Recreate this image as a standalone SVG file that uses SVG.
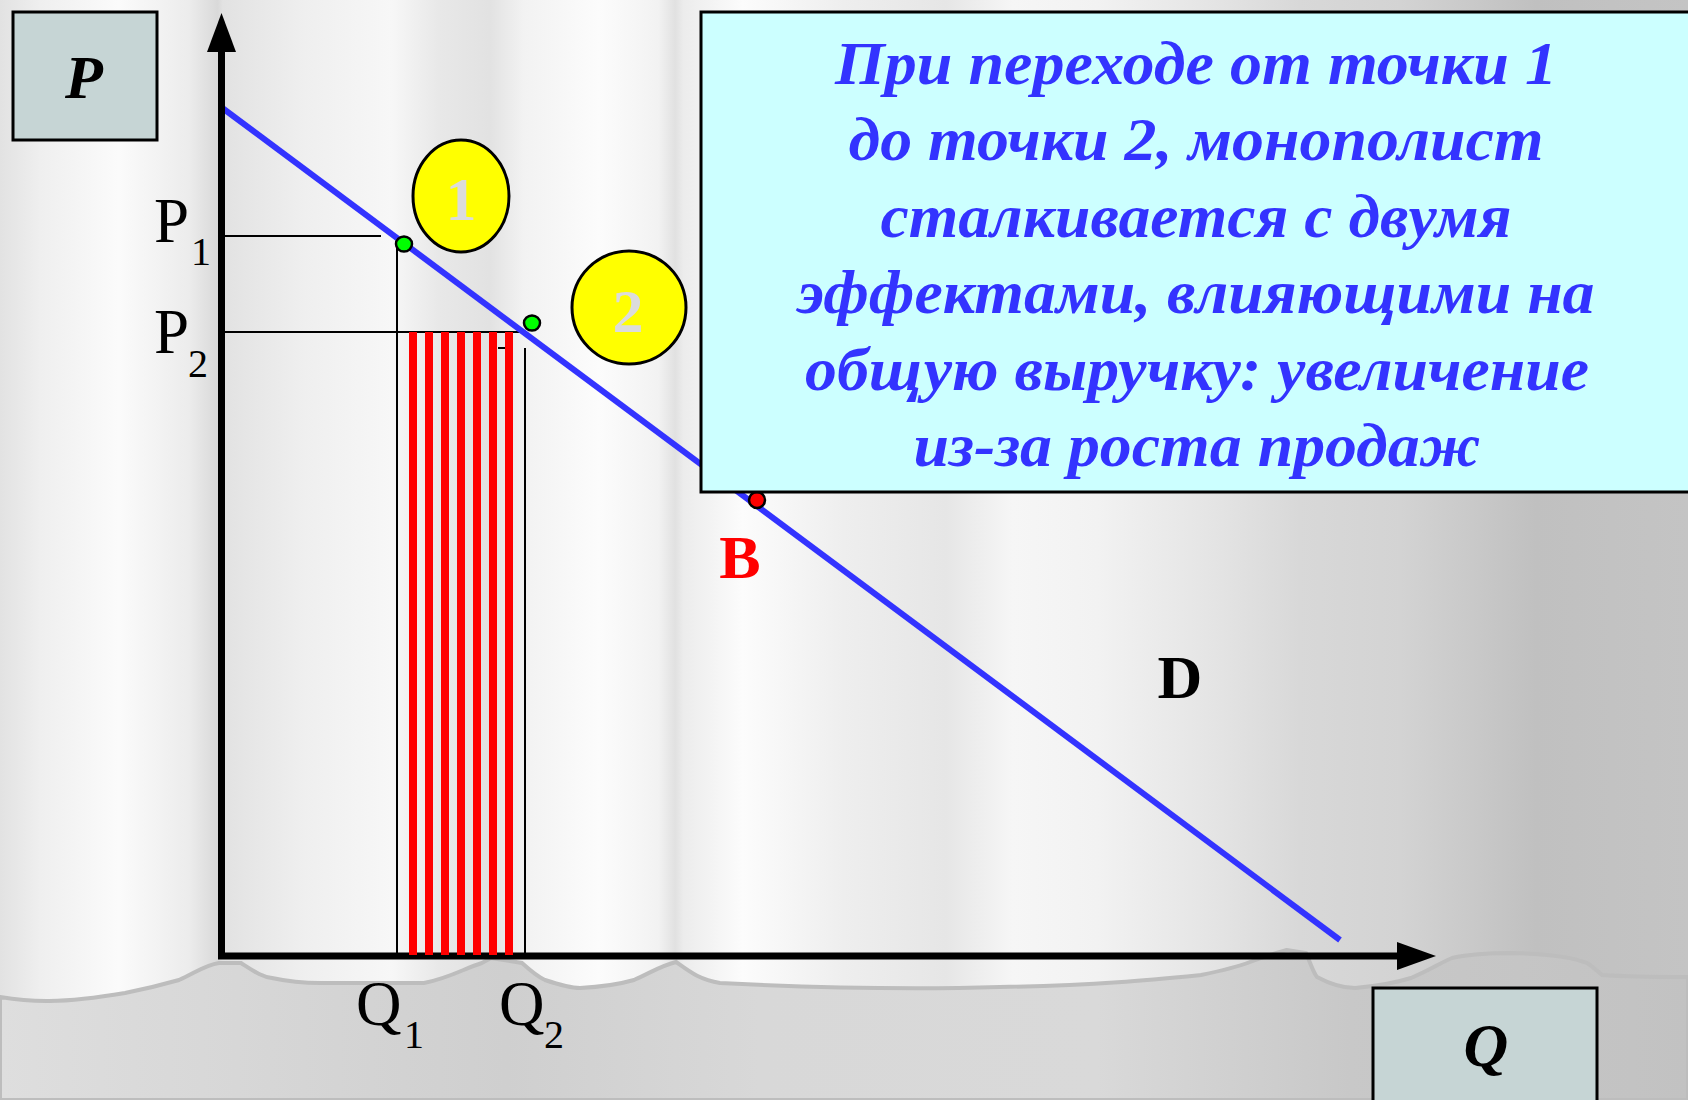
<svg xmlns="http://www.w3.org/2000/svg" width="1688" height="1100" viewBox="0 0 1688 1100">
<style>
.serif{font-family:"Liberation Serif","Times New Roman",serif}
.lbl{font-family:"Liberation Serif","Times New Roman",serif;font-size:63px;fill:#000}
.sub{font-family:"Liberation Serif","Times New Roman",serif;font-size:40px;fill:#000}
.axisbox{fill:#c6d5d5;stroke:#000;stroke-width:3}
.big{font-family:"Liberation Serif","Times New Roman",serif;font-size:62px;font-weight:bold;font-style:italic;fill:#000;text-anchor:middle}
.note{font-family:"Liberation Serif","Times New Roman",serif;font-size:62px;font-weight:bold;font-style:italic;fill:#3333ff;text-anchor:middle}
.num{font-family:"Liberation Serif","Times New Roman",serif;font-size:62px;font-weight:bold;fill:#dcdcdc;text-anchor:middle}
.guide{stroke:#000;stroke-width:2;fill:none}
.stripe{fill:#ff0000}
.dot{stroke:#000;stroke-width:2.5}
</style>
<defs>
<linearGradient id="curtain" x1="0" y1="0" x2="1688" y2="0" gradientUnits="userSpaceOnUse">
<stop offset="0" stop-color="#e2e2e2"/>
<stop offset="0.024" stop-color="#efefef"/>
<stop offset="0.07" stop-color="#fbfbfb"/>
<stop offset="0.112" stop-color="#ececec"/>
<stop offset="0.129" stop-color="#d9d9d9"/>
<stop offset="0.132" stop-color="#e2e2e2"/>
<stop offset="0.18" stop-color="#efefef"/>
<stop offset="0.232" stop-color="#f7f7f7"/>
<stop offset="0.26" stop-color="#e8e8e8"/>
<stop offset="0.29" stop-color="#e2e2e2"/>
<stop offset="0.31" stop-color="#f2f2f2"/>
<stop offset="0.355" stop-color="#fcfcfc"/>
<stop offset="0.39" stop-color="#f2f2f2"/>
<stop offset="0.4" stop-color="#e1e1e1"/>
<stop offset="0.405" stop-color="#ececec"/>
<stop offset="0.44" stop-color="#fcfcfc"/>
<stop offset="0.5" stop-color="#eeeeee"/>
<stop offset="0.56" stop-color="#e6e6e6"/>
<stop offset="0.6" stop-color="#f6f6f6"/>
<stop offset="0.65" stop-color="#f2f2f2"/>
<stop offset="0.72" stop-color="#e4e4e4"/>
<stop offset="0.77" stop-color="#d8d8d8"/>
<stop offset="0.83" stop-color="#d3d3d3"/>
<stop offset="0.91" stop-color="#c0c0c0"/>
<stop offset="1" stop-color="#c4c4c4"/>
</linearGradient>
<linearGradient id="floor" x1="0" y1="0" x2="1688" y2="0" gradientUnits="userSpaceOnUse">
<stop offset="0" stop-color="#dedede"/>
<stop offset="0.3" stop-color="#cfcfcf"/>
<stop offset="0.45" stop-color="#d8d8d8"/>
<stop offset="0.65" stop-color="#d9d9d9"/>
<stop offset="0.8" stop-color="#c8c8c8"/>
<stop offset="1" stop-color="#c2c2c2"/>
</linearGradient>
</defs>

<g id="background">
<rect x="0" y="0" width="1688" height="1100" fill="url(#curtain)"/>
<path d="M0,997 C30,1002 60,1004 125,993 C150,988 165,984 179,980 C195,973 205,965 219,963 L241,963 C255,972 262,977 272,978 C290,982 305,983 321,983 L424,983 C450,978 465,968 482,963 L491,958 L522,963 C532,972 538,977 545,980 C560,985 570,988 580,988 C600,987 620,984 634,980 C650,973 660,966 676,962 C690,972 700,980 720,983 C800,987 900,990 1000,987 C1100,985 1150,980 1201,975 C1225,970 1240,966 1250,962 C1265,956 1280,952 1287,950 L1306,953 C1310,962 1313,972 1317,977 C1330,984 1343,988 1355,988 C1380,986 1398,982 1411,978 C1430,970 1442,962 1452,958 C1470,954 1490,953 1512,953 C1550,954 1575,958 1587,963 C1595,968 1598,972 1602,975 C1630,977 1660,977 1688,977 L1688,1100 L0,1100 Z" fill="url(#floor)" stroke="#bdbdbd" stroke-width="4"/>
</g>

<g id="connectors">
<line id="p1-guide" class="guide" x1="221" y1="236" x2="381" y2="236"/>
<line id="p2-guide" class="guide" x1="221" y1="332" x2="525" y2="332"/>
<line id="q1-guide" class="guide" x1="397" y1="236" x2="397" y2="956"/>
<line id="q2-guide" class="guide" x1="525" y1="348" x2="525" y2="956"/>
<line id="q2-tick" class="guide" x1="498" y1="348" x2="512" y2="348"/>
<line id="demand-curve" x1="221" y1="107" x2="1340" y2="940" stroke="#3333ff" stroke-width="6"/>
<line id="y-axis" x1="221.5" y1="50" x2="221.5" y2="959" stroke="#000" stroke-width="7"/>
<polygon id="y-arrow" points="221.5,13 207,52 236,52" fill="#000"/>
<line id="x-axis" x1="218" y1="956" x2="1400" y2="956" stroke="#000" stroke-width="7"/>
<polygon id="x-arrow" points="1436,956 1397,942 1397,970" fill="#000"/>
</g>

<g id="revenue-stripes">
<rect class="stripe" x="409" y="332" width="8" height="623"/>
<rect class="stripe" x="425" y="332" width="8" height="623"/>
<rect class="stripe" x="441" y="332" width="8" height="623"/>
<rect class="stripe" x="457" y="332" width="8" height="623"/>
<rect class="stripe" x="473" y="332" width="8" height="623"/>
<rect class="stripe" x="489" y="332" width="8" height="623"/>
<rect class="stripe" x="505" y="332" width="8" height="623"/>
</g>

<g id="p-box">
<rect class="axisbox" x="13" y="12" width="144" height="128"/>
<text class="big" x="84" y="98">P</text>
</g>

<g id="q-box">
<rect class="axisbox" x="1373" y="988" width="224" height="130"/>
<text class="big" x="1486" y="1066">Q</text>
</g>

<g id="point-1">
<ellipse cx="404" cy="244" rx="8" ry="7.5" fill="#00ff00" class="dot"/>
</g>
<g id="point-2">
<ellipse cx="532" cy="323" rx="8" ry="7.5" fill="#00ff00" class="dot"/>
</g>
<g id="point-b">
<circle cx="757" cy="500" r="8" fill="#ff0000" class="dot"/>
</g>

<g id="badge-1">
<ellipse cx="461" cy="196" rx="48" ry="56" fill="#ffff00" stroke="#000" stroke-width="3"/>
<text class="num" x="461" y="220">1</text>
</g>
<g id="badge-2">
<ellipse cx="629" cy="307.5" rx="57" ry="56.5" fill="#ffff00" stroke="#000" stroke-width="3"/>
<text class="num" x="628" y="332">2</text>
</g>

<g id="axis-labels">
<text class="lbl" x="154" y="242">P</text><text class="sub" x="191" y="265">1</text>
<text class="lbl" x="154" y="353">P</text><text class="sub" x="188" y="377">2</text>
<text class="lbl" x="356" y="1025">Q</text><text class="sub" x="404" y="1048">1</text>
<text class="lbl" x="499" y="1025">Q</text><text class="sub" x="544" y="1048">2</text>
</g>

<g id="label-b">
<text class="serif" x="740" y="578" font-size="62" font-weight="bold" fill="#ff0000" text-anchor="middle">B</text>
</g>
<g id="label-d">
<text class="serif" x="1180" y="698" font-size="62" font-weight="bold" fill="#000" text-anchor="middle">D</text>
</g>

<g id="note">
<rect x="701" y="12" width="1000" height="480" fill="#ccffff" stroke="#000" stroke-width="3"/>
<text class="note" x="1196" y="84" textLength="722" lengthAdjust="spacingAndGlyphs">При переходе от точки 1</text>
<text class="note" x="1196" y="160" textLength="695" lengthAdjust="spacingAndGlyphs">до точки 2, монополист</text>
<text class="note" x="1196" y="237" textLength="631" lengthAdjust="spacingAndGlyphs">сталкивается с двумя</text>
<text class="note" x="1196" y="313" textLength="797" lengthAdjust="spacingAndGlyphs">эффектами, влияющими на</text>
<text class="note" x="1197" y="390" textLength="784" lengthAdjust="spacingAndGlyphs">общую выручку: увеличение</text>
<text class="note" x="1197" y="466" textLength="567" lengthAdjust="spacingAndGlyphs">из-за роста продаж</text>
</g>
</svg>
